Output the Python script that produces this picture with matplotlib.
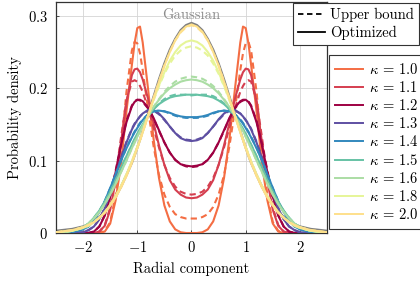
import numpy as np
import matplotlib
matplotlib.use("Agg")
import matplotlib.pyplot as plt
from matplotlib.lines import Line2D

plt.rcParams["font.family"] = "serif"
plt.rcParams["font.serif"] = ["cmr10", "DejaVu Serif"]
plt.rcParams["mathtext.fontset"] = "cm"
plt.rcParams["axes.unicode_minus"] = False

# radial positions (x >= 0); the densities are symmetric about 0
X_HALF = [0.0, 0.1, 0.2, 0.3, 0.4, 0.5, 0.6, 0.7, 0.8, 0.9, 0.95, 1.0, 1.05,
          1.1, 1.2, 1.3, 1.4, 1.5, 1.6, 1.7, 1.8, 1.9, 2.0, 2.2, 2.5]

KAPPAS = ["1.0", "1.1", "1.2", "1.3", "1.4", "1.5", "1.6", "1.8", "2.0"]
COLOURS = ["#f46d43", "#d53e4f", "#9e0142", "#5e4fa2", "#3288bd",
           "#66c2a5", "#abdda4", "#e6f598", "#fee08b"]

GAUSSIAN = [0.290, 0.287, 0.280, 0.268, 0.253, 0.234, 0.212, 0.188, 0.164,
            0.141, 0.129, 0.118, 0.107, 0.097, 0.080, 0.064, 0.050, 0.039,
            0.030, 0.022, 0.016, 0.012, 0.009, 0.0055, 0.003]

OPTIMIZED = {
    "1.0": [0.000, 0.000, 0.001, 0.005, 0.016, 0.038, 0.076, 0.130, 0.198,
            0.263, 0.285, 0.283, 0.262, 0.232, 0.168, 0.095, 0.045, 0.013,
            0.002, 0.000, 0.000, 0.000, 0.000, 0.000, 0.000],
    "1.1": [0.048, 0.049, 0.053, 0.060, 0.073, 0.094, 0.121, 0.152, 0.185,
            0.212, 0.222, 0.227, 0.226, 0.218, 0.180, 0.125, 0.072, 0.032,
            0.010, 0.002, 0.000, 0.000, 0.000, 0.000, 0.000],
    "1.2": [0.092, 0.093, 0.095, 0.101, 0.111, 0.125, 0.142, 0.159, 0.173,
            0.182, 0.184, 0.184, 0.181, 0.175, 0.153, 0.121, 0.084, 0.050,
            0.024, 0.009, 0.002, 0.000, 0.000, 0.000, 0.000],
    "1.3": [0.127, 0.128, 0.131, 0.138, 0.147, 0.157, 0.165, 0.170, 0.170,
            0.165, 0.161, 0.156, 0.150, 0.143, 0.125, 0.103, 0.079, 0.055,
            0.034, 0.019, 0.009, 0.004, 0.001, 0.000, 0.000],
    "1.4": [0.160, 0.160, 0.161, 0.163, 0.166, 0.168, 0.169, 0.168, 0.164,
            0.156, 0.151, 0.145, 0.139, 0.132, 0.117, 0.100, 0.081, 0.062,
            0.044, 0.029, 0.017, 0.009, 0.005, 0.001, 0.000],
    "1.5": [0.191, 0.191, 0.190, 0.189, 0.187, 0.183, 0.178, 0.171, 0.162,
            0.150, 0.144, 0.137, 0.130, 0.122, 0.106, 0.090, 0.073, 0.057,
            0.043, 0.031, 0.021, 0.013, 0.008, 0.003, 0.000],
    "1.6": [0.212, 0.211, 0.209, 0.205, 0.200, 0.193, 0.184, 0.174, 0.162,
            0.148, 0.141, 0.133, 0.125, 0.117, 0.100, 0.084, 0.068, 0.053,
            0.040, 0.029, 0.020, 0.013, 0.008, 0.003, 0.000],
    "1.8": [0.266, 0.264, 0.259, 0.250, 0.238, 0.222, 0.204, 0.184, 0.162,
            0.140, 0.129, 0.119, 0.109, 0.099, 0.081, 0.065, 0.051, 0.039,
            0.029, 0.021, 0.015, 0.010, 0.007, 0.003, 0.001],
    "2.0": [0.288, 0.285, 0.278, 0.266, 0.250, 0.231, 0.209, 0.186, 0.162,
            0.139, 0.128, 0.117, 0.107, 0.097, 0.079, 0.063, 0.049, 0.038,
            0.028, 0.021, 0.015, 0.011, 0.008, 0.004, 0.001],
}

UPPER_BOUND = {
    "1.0": [0.020, 0.020, 0.022, 0.026, 0.036, 0.053, 0.080, 0.120, 0.170,
            0.225, 0.248, 0.262, 0.264, 0.252, 0.195, 0.115, 0.052, 0.015,
            0.003, 0.000, 0.000, 0.000, 0.000, 0.000, 0.000],
    "1.1": [0.053, 0.054, 0.057, 0.064, 0.076, 0.094, 0.118, 0.146, 0.172,
            0.195, 0.203, 0.209, 0.211, 0.209, 0.183, 0.132, 0.078, 0.035,
            0.011, 0.002, 0.000, 0.000, 0.000, 0.000, 0.000],
    "1.2": [0.091, 0.092, 0.095, 0.101, 0.111, 0.125, 0.141, 0.158, 0.172,
            0.181, 0.183, 0.184, 0.182, 0.176, 0.155, 0.123, 0.086, 0.051,
            0.025, 0.009, 0.002, 0.000, 0.000, 0.000, 0.000],
    "1.3": [0.128, 0.129, 0.132, 0.138, 0.147, 0.156, 0.164, 0.169, 0.169,
            0.165, 0.161, 0.156, 0.151, 0.144, 0.126, 0.104, 0.080, 0.056,
            0.035, 0.019, 0.009, 0.004, 0.001, 0.000, 0.000],
    "1.4": [0.159, 0.159, 0.160, 0.162, 0.165, 0.168, 0.169, 0.168, 0.164,
            0.157, 0.152, 0.146, 0.140, 0.133, 0.118, 0.100, 0.081, 0.062,
            0.044, 0.029, 0.017, 0.009, 0.005, 0.001, 0.000],
    "1.5": [0.190, 0.191, 0.191, 0.191, 0.189, 0.185, 0.179, 0.171, 0.161,
            0.149, 0.143, 0.136, 0.129, 0.122, 0.106, 0.090, 0.073, 0.057,
            0.043, 0.031, 0.021, 0.013, 0.008, 0.003, 0.000],
    "1.6": [0.216, 0.215, 0.213, 0.209, 0.203, 0.195, 0.185, 0.174, 0.161,
            0.147, 0.140, 0.133, 0.125, 0.117, 0.100, 0.084, 0.068, 0.053,
            0.040, 0.029, 0.020, 0.013, 0.008, 0.003, 0.000],
    "1.8": [0.258, 0.256, 0.252, 0.245, 0.234, 0.220, 0.203, 0.183, 0.162,
            0.140, 0.129, 0.119, 0.109, 0.099, 0.081, 0.065, 0.051, 0.039,
            0.029, 0.021, 0.015, 0.010, 0.007, 0.003, 0.001],
    "2.0": [0.287, 0.284, 0.277, 0.266, 0.250, 0.231, 0.209, 0.186, 0.162,
            0.139, 0.128, 0.117, 0.107, 0.097, 0.079, 0.063, 0.049, 0.038,
            0.028, 0.021, 0.015, 0.011, 0.008, 0.004, 0.001],
}


def mirror(vals):
    vals = np.asarray(vals)
    return np.concatenate([vals[:0:-1], vals])


x_full = np.concatenate([-np.asarray(X_HALF)[:0:-1], X_HALF])

fig = plt.figure(figsize=(4.2, 2.81), dpi=100)
ax = fig.add_axes([0.1333, 0.1708, 0.6453, 0.8221])

ax.plot(x_full, mirror(GAUSSIAN), color="#808080", lw=1.7, zorder=2)

for k, col in zip(KAPPAS, COLOURS):
    ax.plot(x_full, mirror(UPPER_BOUND[k]), color=col, lw=1.5,
            ls=(0, (3, 2)), zorder=3)
    ax.plot(x_full, mirror(OPTIMIZED[k]), color=col, lw=1.5, zorder=3)

ax.text(0, 0.301, "Gaussian", color="#8c8c8c", fontsize=10.5,
        ha="center", va="center", zorder=4)

ax.set_xlim(-2.5, 2.5)
ax.set_ylim(0, 0.319)
ax.set_xticks([-2, -1, 0, 1, 2])
ax.set_xticklabels([r"$-2$", r"$-1$", r"$0$", r"$1$", r"$2$"])
ax.set_yticks([0, 0.1, 0.2, 0.3])
ax.set_yticklabels([r"$0$", r"$0.1$", r"$0.2$", r"$0.3$"])
ax.tick_params(labelsize=10.5, direction="in", length=2.5, width=0.6,
               colors="#333333", labelcolor="black")
ax.tick_params(axis="y", pad=6)
ax.tick_params(axis="x", pad=5)
ax.grid(True, color="#d4d4d4", lw=0.6)
ax.set_axisbelow(True)
for s in ax.spines.values():
    s.set_color("#333333")
    s.set_linewidth(0.9)

ax.set_xlabel("Radial component", fontsize=10.5, labelpad=5)
ax.set_ylabel("Probability density", fontsize=10.5, labelpad=4)

style_handles = [Line2D([], [], color="black", lw=1.3, ls=(0, (3, 2))),
                 Line2D([], [], color="black", lw=1.3)]
leg1 = fig.legend(style_handles, ["Upper bound", "Optimized"],
                  loc="upper left", bbox_to_anchor=(0.698, 0.989),
                  borderaxespad=0, fontsize=10.5, fancybox=False,
                  framealpha=1, edgecolor="#333333", borderpad=0.35,
                  labelspacing=0.25, handlelength=1.8, handletextpad=0.4)
leg1.get_frame().set_linewidth(0.8)

kappa_handles = [Line2D([], [], color=c, lw=1.4) for c in COLOURS]
leg2 = fig.legend(kappa_handles, [rf"$\kappa\,{{=}}\,{k}$" for k in KAPPAS],
                  loc="upper left", bbox_to_anchor=(0.783, 0.804),
                  borderaxespad=0, fontsize=10.5, fancybox=False,
                  framealpha=1, edgecolor="#333333", borderpad=0.45,
                  labelspacing=0.22, handlelength=1.9, handletextpad=0.4)
leg2.get_frame().set_linewidth(0.8)

fig.savefig("out.png", dpi=100)
